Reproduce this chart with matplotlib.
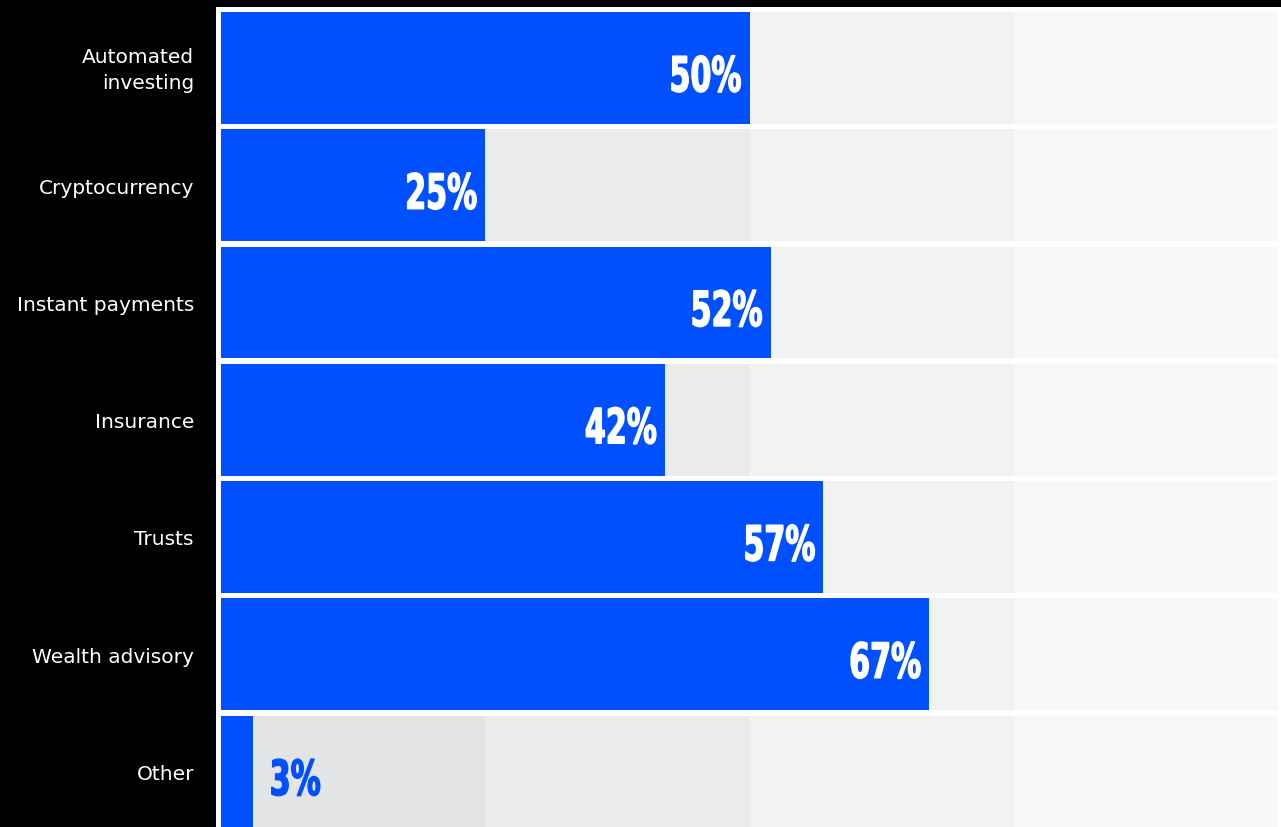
import matplotlib.pyplot as plt
from matplotlib.patches import Rectangle, PathPatch
from matplotlib.textpath import TextPath
from matplotlib.font_manager import FontProperties
from matplotlib.transforms import Affine2D, IdentityTransform

# données
categories = ['Automated\ninvesting', 'Cryptocurrency', 'Instant payments',
              'Insurance', 'Trusts', 'Wealth advisory', 'Other']
valeurs = [50, 25, 52, 42, 57, 67, 3]
etiquettes = ['50%', '25%', '52%', '42%', '57%', '67%', '3%']

bandes = [0, 25, 50, 75, 100]
couleurs_bandes = ['#e3e4e6', '#eaebec', '#f1f2f2', '#f8f8f8']
bleu = '#0050ff'

W, H = 1281, 827
fig = plt.figure(figsize=(W / 100, H / 100), dpi=100, facecolor='black')

# zone blanche derrière le graphique
fig.patches.append(Rectangle((216 / W, 0), (W - 216) / W, (H - 7) / H,
                             transform=fig.transFigure, facecolor='white',
                             edgecolor='none', zorder=-1))

ax = fig.add_axes([221 / W, 0, (1278 - 221) / W, (H - 12) / H])
ax.set_facecolor('none')
ax.set_xlim(0, 100)
ax.set_ylim(6.473, -0.4775)

y = list(range(len(categories)))
hauteur = 0.955

# fonds gris par quart
for i in range(4):
    ax.barh(y, bandes[i + 1] - bandes[i], left=bandes[i], height=hauteur,
            color=couleurs_bandes[i], edgecolor='none', zorder=1)

ax.barh(y, valeurs, height=hauteur, color=bleu, edgecolor='none', zorder=2)

# pourcentages en gras étroit : chemin de texte compressé horizontalement
fp = FontProperties(family='DejaVu Sans', weight='bold')
taille = 48.5   # px
etroit = 0.62
for yi, v, txt in zip(y, valeurs, etiquettes):
    chemin = TextPath((0, 0), txt, size=taille, prop=fp)
    ext = chemin.get_extents()
    largeur = ext.x1 * etroit
    px, py = ax.transData.transform((v, yi))
    if v >= 10:
        x0 = px - 9 - largeur
        couleur = 'white'
    else:
        x0 = px + 17
        couleur = bleu
    tr = Affine2D().scale(etroit, 1).translate(x0, py - 23.5)
    ax.add_patch(PathPatch(chemin, transform=tr + IdentityTransform(),
                           facecolor=couleur, edgecolor=couleur, lw=1.0,
                           zorder=3))

# étiquettes des catégories
for yi, cat in zip(y, categories):
    ax.annotate(cat, (0, yi), xytext=(-27 * 0.72, -2), textcoords='offset points',
                ha='right', va='center', color='white', fontsize=14.5,
                family=['DejaVu Sans'], linespacing=1.45,
                annotation_clip=False)

ax.set_xticks([])
ax.set_yticks([])
for s in ax.spines.values():
    s.set_visible(False)

fig.savefig('out.png', dpi=100, facecolor='black')
